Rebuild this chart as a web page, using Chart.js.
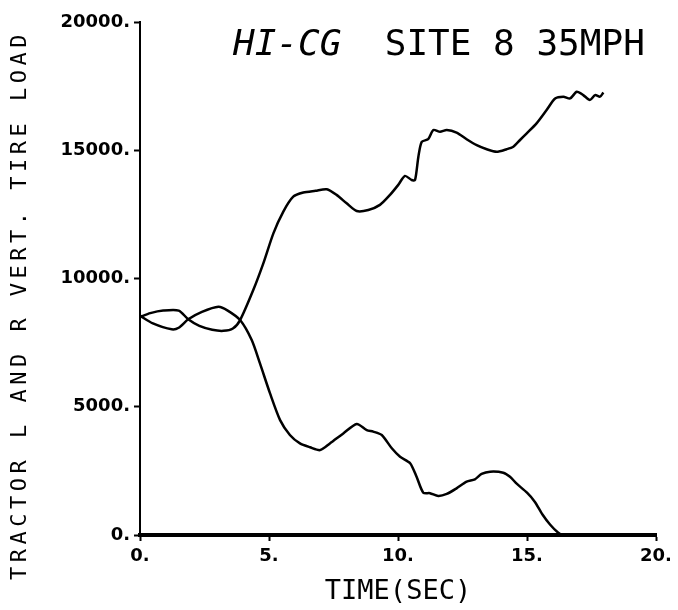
<!DOCTYPE html>
<html><head><meta charset="utf-8">
<script src="https://cdn.jsdelivr.net/npm/chart.js@4/dist/chart.umd.min.js"></script>
<style>html,body{margin:0;padding:0;background:#fff}</style>
</head><body>
<canvas id="c" width="678" height="610"></canvas>
<script>
// ---- data ----
const titleItalic = "HI-CG";
const titleRest = "  SITE 8 35MPH";
const xAxisTitle = "TIME(SEC)";
const yAxisTitle = "TRACTOR L AND R VERT. TIRE LOAD";
const xTickLabels = ["0.", "5.", "10.", "15.", "20."];
const yTickLabels = ["0.", "5000.", "10000.", "15000.", "20000."];

const timeA = [0, 0.4, 0.9, 1.5, 1.87, 2.3, 2.8, 3.23, 3.6, 3.88, 4.39, 4.78, 5.17, 5.55, 5.94, 6.33, 6.8, 7.24, 7.62, 8.01, 8.4, 8.85, 9.3, 9.69, 10.01, 10.27, 10.53, 10.66, 10.79, 10.92, 11.17, 11.37, 11.63, 11.89, 12.27, 12.66, 13.05, 13.44, 13.82, 14.21, 14.47, 14.73, 14.99, 15.37, 15.76, 16.09, 16.41, 16.67, 16.93, 17.18, 17.44, 17.64, 17.83, 17.96];
const loadA = [8500, 8650, 8750, 8750, 8410, 8150, 8000, 7960, 8050, 8380, 9550, 10590, 11760, 12600, 13190, 13350, 13420, 13480, 13260, 12930, 12630, 12670, 12870, 13260, 13650, 14000, 13840, 13840, 14750, 15330, 15430, 15790, 15720, 15790, 15690, 15430, 15200, 15040, 14940, 15040, 15140, 15400, 15660, 16050, 16570, 17020, 17090, 17020, 17280, 17150, 16960, 17150, 17090, 17250];

const timeB = [0, 0.5, 1.23, 1.5, 1.87, 2.4, 3.04, 3.4, 3.88, 4.33, 4.65, 5.04, 5.43, 5.81, 6.2, 6.59, 6.98, 7.36, 7.88, 8.4, 8.79, 9.04, 9.37, 9.76, 10.08, 10.47, 10.72, 10.98, 11.24, 11.56, 11.89, 12.27, 12.66, 12.98, 13.24, 13.57, 14.08, 14.34, 14.6, 15.0, 15.3, 15.6, 15.9, 16.2, 16.4, 18.0];
const loadB = [8550, 8250, 8020, 8080, 8410, 8700, 8900, 8750, 8380, 7600, 6690, 5520, 4480, 3900, 3570, 3420, 3310, 3570, 3960, 4330, 4090, 4030, 3900, 3380, 3050, 2800, 2270, 1650, 1630, 1520, 1600, 1820, 2080, 2170, 2380, 2470, 2430, 2270, 2000, 1650, 1300, 800, 400, 100, 0, 0];

const toPts = (t, v) => t.map((x, i) => ({x: x, y: v[i]}));

const textPlugin = {
  id: 'plotterText',
  afterDraw(chart) {
    const ctx = chart.ctx;
    const area = chart.chartArea;
    ctx.save();
    ctx.fillStyle = '#000';
    ctx.textBaseline = 'alphabetic';
    // title inside plot area
    ctx.font = 'oblique 36px "DejaVu Sans Mono"';
    let x = area.left + 93;
    const yb = area.top + 33;
    ctx.textAlign = 'left';
    ctx.fillText(titleItalic, x, yb);
    x += ctx.measureText(titleItalic).width;
    ctx.font = '36px "DejaVu Sans Mono"';
    ctx.fillText(titleRest, x, yb);
    // x axis title
    ctx.font = '27px "DejaVu Sans Mono"';
    ctx.textAlign = 'center';
    ctx.textBaseline = 'middle';
    ctx.fillText(xAxisTitle, (area.left + area.right) / 2, 592);
    // y axis title
    ctx.translate(20, 305);
    ctx.rotate(-Math.PI / 2);
    ctx.font = '22px "DejaVu Sans Mono"';
    try { ctx.letterSpacing = '4.5px'; } catch (e) {}
    ctx.fillText(yAxisTitle, 0, 0);
    ctx.restore();
  }
};

new Chart(document.getElementById('c'), {
  type: 'line',
  data: {
    datasets: [
      {data: toPts(timeA, loadA), borderColor: '#000', borderWidth: 2.5, pointRadius: 0, tension: 0.25, fill: false},
      {data: toPts(timeB, loadB), borderColor: '#000', borderWidth: 2.5, pointRadius: 0, tension: 0.25, fill: false}
    ]
  },
  options: {
    responsive: false,
    animation: false,
    devicePixelRatio: 1,
    layout: {padding: {left: 0, right: 22, top: 22, bottom: 0}},
    plugins: {legend: {display: false}, tooltip: {enabled: false}, title: {display: false}},
    scales: {
      x: {
        type: 'linear', min: 0, max: 20,
        border: {color: '#000', width: 4},
        grid: {drawOnChartArea: false, color: '#000', tickLength: 6, tickWidth: 2},
        ticks: {stepSize: 5, padding: 5, color: '#000', maxRotation: 0,
          font: {family: '"DejaVu Sans"', size: 18, weight: 'bold'},
          callback: (v) => xTickLabels[Math.round(v / 5)]},
        afterFit(s) { s.height = 75; }
      },
      y: {
        min: 0, max: 20000,
        border: {color: '#000', width: 2},
        grid: {drawOnChartArea: false, color: '#000', tickLength: 6, tickWidth: 2},
        ticks: {stepSize: 5000, padding: 4, color: '#000',
          font: {family: '"DejaVu Sans"', size: 18, weight: 'bold'},
          callback: (v) => yTickLabels[Math.round(v / 5000)]},
        afterFit(s) { s.width = 140; }
      }
    }
  },
  plugins: [textPlugin]
});
</script>
</body></html>
